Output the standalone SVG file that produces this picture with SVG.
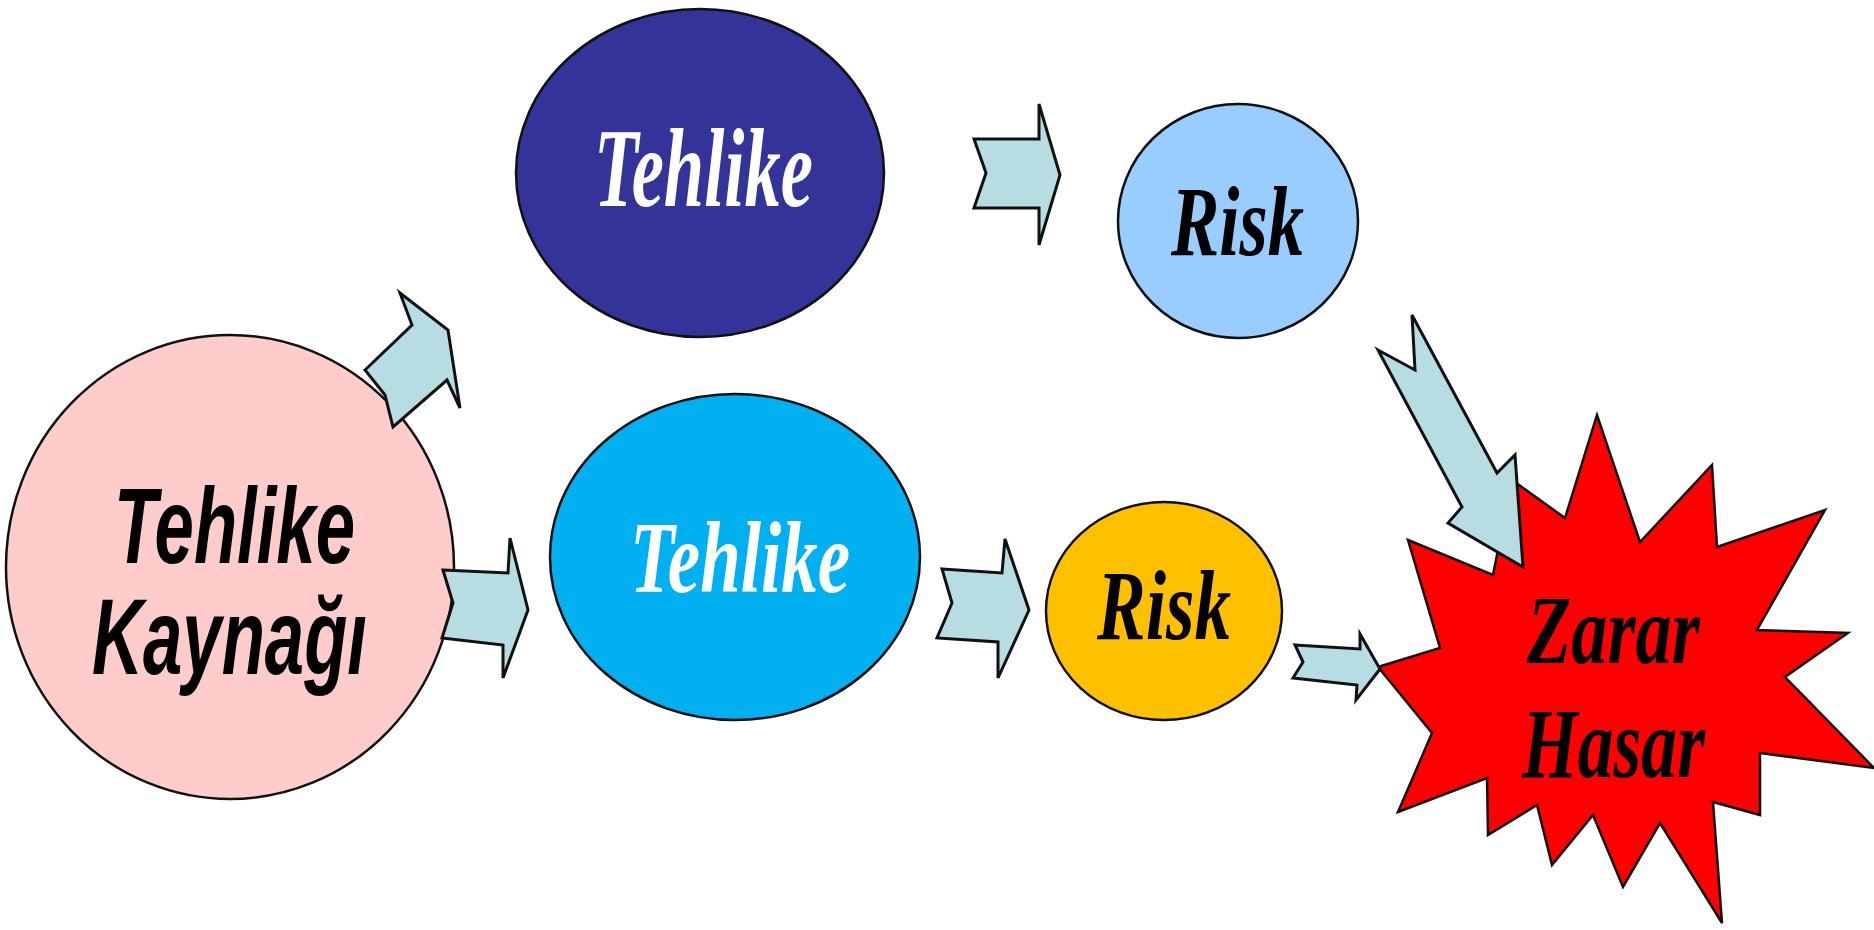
<svg xmlns="http://www.w3.org/2000/svg" width="1874" height="930" viewBox="0 0 1874 930">
<style>
.node{stroke:#111;stroke-width:2.5}
.arrow{fill:#B7DDE3;stroke:#111;stroke-width:3;stroke-linejoin:miter}
.serif{font-family:"Liberation Serif","Times New Roman",serif;font-weight:bold;font-style:italic}
.sans{font-family:"Liberation Sans",Arial,sans-serif;font-weight:bold;font-style:italic}
</style>
<rect width="1874" height="930" fill="#fff"/>
<g id="node-kaynak">
<ellipse class="node" cx="230" cy="567" rx="224" ry="232" fill="#FFCCCC"/>
<text class="sans" x="114" y="563" font-size="108" fill="#000" textLength="241" lengthAdjust="spacingAndGlyphs">Tehlike</text>
<text class="sans" x="92" y="674" font-size="108" fill="#000" textLength="275" lengthAdjust="spacingAndGlyphs">Kaynağı</text>
</g>
<g id="node-tehlike1">
<ellipse class="node" cx="700" cy="173" rx="184" ry="164" fill="#333399"/>
<text class="serif" x="594" y="206" font-size="112" fill="#fff" textLength="219" lengthAdjust="spacingAndGlyphs">Tehlike</text>
</g>
<g id="node-risk1">
<ellipse class="node" cx="1238" cy="221" rx="120" ry="117" fill="#99CCFF"/>
<text class="serif" x="1171" y="255" font-size="99" fill="#000" textLength="133" lengthAdjust="spacingAndGlyphs">Risk</text>
</g>
<g id="node-tehlike2">
<ellipse class="node" cx="735" cy="557" rx="185" ry="163" fill="#00B0F0"/>
<text class="serif" x="630" y="592" font-size="102" fill="#fff" textLength="220" lengthAdjust="spacingAndGlyphs">Tehlike</text>
</g>
<g id="node-risk2">
<ellipse class="node" cx="1164" cy="611" rx="118" ry="109" fill="#FFC000"/>
<text class="serif" x="1097" y="639" font-size="100" fill="#000" textLength="134" lengthAdjust="spacingAndGlyphs">Risk</text>
</g>
<g id="node-zarar">
<polygon class="node" fill="#FF0000" points="1408,540 1493,575 1512,480 1565,518 1597,415 1640,542 1712,465 1717,547 1825,510 1757,630 1848,633 1785,677 1874,768 1760,753 1760,815 1713,802 1722,923 1660,823 1623,887 1593,815 1552,865 1537,805 1488,835 1487,778 1398,812 1432,733 1378,667 1440,648"/>
<text class="serif" x="1527" y="663" font-size="97" fill="#000" textLength="173" lengthAdjust="spacingAndGlyphs">Zarar</text>
<text class="serif" x="1522" y="777" font-size="100" fill="#000" textLength="183" lengthAdjust="spacingAndGlyphs">Hasar</text>
</g>
<g id="connectors">
<polygon class="arrow" points="365,370 412,325 400,293 448,330 460,408 447,380 393,427 385,395"/>
<polygon class="arrow" points="443,570 508,573 510,538 528,610 503,678 503,645 442,638 453,603"/>
<polygon class="arrow" points="974,139 1039,139 1039,104 1060,175 1039,245 1039,208 974,208 986,173"/>
<polygon class="arrow" points="942,569 1002,573 1005,539 1029,610 998,678 998,642 937,638 952,603"/>
<polygon class="arrow" points="1295,645 1360,649 1360,634 1380,669 1356,700 1357,685 1293,678 1303,662"/>
<polygon class="arrow" points="1378,350 1415,370 1412,315 1497,473 1515,455 1523,567 1448,523 1462,507"/>
</g>
</svg>
